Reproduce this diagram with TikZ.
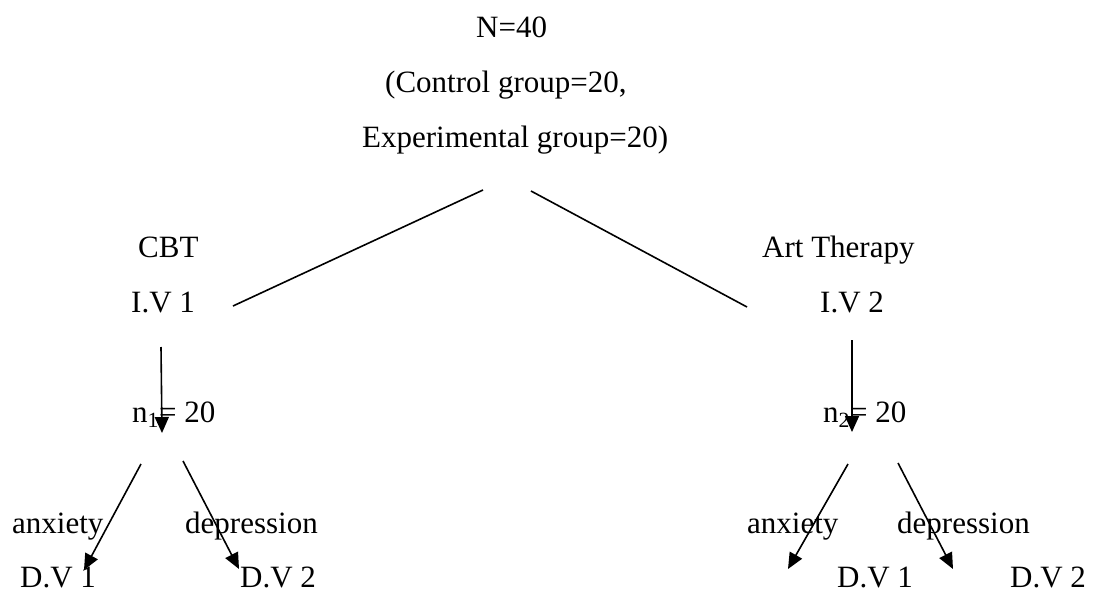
\documentclass[tikz,border=0pt]{standalone}
\usepackage{fontspec}
\setmainfont{Liberation Serif}
\usetikzlibrary{arrows.meta}

\begin{document}
\begin{tikzpicture}[x=1pt, y=-1pt, >={Triangle[length=16pt,width=14pt]},
    lbl/.style={anchor=base west, inner sep=0pt, font=\fontsize{31}{37}\selectfont},
    link/.style={line width=1.6pt}]
    \useasboundingbox (0,0) rectangle (1096,592);
    % sample
    \node[lbl] (total) at (476,37) {N=40};
    \node[lbl] (ctrl) at (385,92) {(Control group=20,};
    \node[lbl] (exper) at (362,147) {Experimental group=20)};
    % independent variables
    \node[lbl] (cbt) at (138,257) {CBT};
    \node[lbl] (ivone) at (131,312) {I.V 1};
    \node[lbl] (art) at (762,257) {Art Therapy};
    \node[lbl] (ivtwo) at (820,312) {I.V 2};
    \node[lbl] (none) at (132,422) {n\textsubscript{1}= 20};
    \node[lbl] (ntwo) at (823,422) {n\textsubscript{2}= 20};
    % dependent variables
    \node[lbl] (anxL) at (12,533) {anxiety};
    \node[lbl] (depL) at (185,533) {depression};
    \node[lbl] (dvoneL) at (20,587) {D.V 1};
    \node[lbl] (dvtwoL) at (240,587) {D.V 2};
    \node[lbl] (anxR) at (747,533) {anxiety};
    \node[lbl] (depR) at (897,533) {depression};
    \node[lbl] (dvoneR) at (837,587) {D.V 1};
    \node[lbl] (dvtwoR) at (1010,587) {D.V 2};

    \coordinate (splitL) at (483,190);
    \coordinate (splitR) at (531,191);
    \coordinate (armL) at (233,306);
    \coordinate (armR) at (747,307);
    \coordinate (downL) at (161,347);
    \coordinate (tipL) at (162,433);
    \coordinate (downR) at (852,340);
    \coordinate (tipR) at (852,432);
    \coordinate (forkLa) at (141,464);
    \coordinate (endLa) at (84,570);
    \coordinate (forkLb) at (183,461);
    \coordinate (endLb) at (239,569);
    \coordinate (forkRa) at (848,464);
    \coordinate (endRa) at (788,569);
    \coordinate (forkRb) at (898,463);
    \coordinate (endRb) at (953,569);

    \draw[link] (splitL) -- (armL);
    \draw[link] (splitR) -- (armR);
    \draw[link, ->] (downL) -- (tipL);
    \draw[link, ->] (downR) -- (tipR);
    \draw[link, ->] (forkLa) -- (endLa);
    \draw[link, ->] (forkLb) -- (endLb);
    \draw[link, ->] (forkRa) -- (endRa);
    \draw[link, ->] (forkRb) -- (endRb);
\end{tikzpicture}
\end{document}
